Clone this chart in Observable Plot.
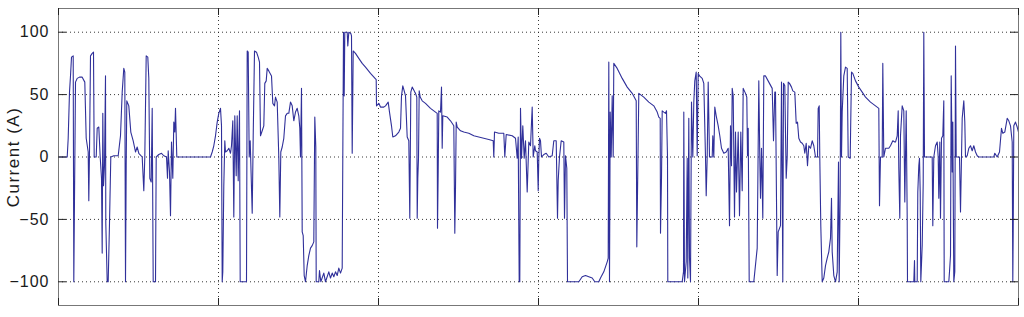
<!DOCTYPE html>
<html><head><meta charset="utf-8">
<script src="https://cdn.jsdelivr.net/npm/d3@7"></script>
<script src="https://cdn.jsdelivr.net/npm/@observablehq/plot@0.6"></script>
<style>
html,body{margin:0;padding:0;background:#fff;}
#chart svg{display:block;}
</style></head><body><div id="chart"></div>
<script>
// time (×10 s) and current (A) readings, by stretch of the drive
const segA = [[0,0],[8.7,0],[9.7,15],[11,52],[12,65],[13,80],[14.7,81],[15.3,-100],[16,-33],[17,60],[18.7,63],[21,64],[23.7,64],[26.3,60],[27.7,15],[29.7,4],[30.3,-35],[31,4],[32,81],[33.7,83],[35,84],[35.7,0],[37.7,0],[38.7,23],[40.3,24],[41.7,0],[43,-17],[43.7,-77],[44.3,35],[45,-23],[46,-7],[47,65],[47.3,-53],[48.7,-100],[49.7,-100],[51,-53],[52.3,0],[55.3,1],[59.7,1],[62,17],[63.7,52],[65.3,71],[66.3,68],[67,-100],[67.7,-7],[68.3,45],[70.3,41],[72.3,20],[74.7,13],[77,4],[78.7,8],[80.3,3],[83.7,0],[85.3,-27],[86.3,0],[87.7,81],[89.3,80],[90.3,63],[91.3,-17],[92.7,-20],[93.7,39],[94.7,-100],[97,-100],[97.7,0],[100.3,2],[103,3],[105.3,1],[108,0],[109,-17],[109.7,5],[111,-12],[112,-47],[113,12],[114.3,-17],[115.3,28],[116.3,20],[117,39],[118.3,0]];
const segB = [[152,0],[153.7,4],[155.3,9],[157,17],[158.7,28],[160.3,35],[162,39],[163,25],[163.7,-100],[164.3,-92],[165.3,-23],[166.3,13],[167,4],[168.7,5],[170.3,7],[172,3],[173,9],[174.3,29],[175.3,-48],[176.3,33],[177.7,-15],[178.7,33],[179.7,-19],[181,37],[181.7,-100],[188,-100],[188.7,85],[189.7,84],[190.7,0],[191.7,13],[193.7,-45],[194.7,16],[196,85],[198,84],[199.7,80],[201,76],[202,17],[203.7,21],[205.3,25],[206.3,59],[207.7,61],[208.7,71],[210.3,69],[213,65],[214.3,43],[216,41],[217,48],[218.7,44],[220.3,0],[221.3,-48],[222.3,4],[223.7,8],[225.3,15],[227,33],[228.7,35],[230.3,35],[232,44],[233.7,41],[235.3,29]];
const segC = [[237,36],[238.7,39],[240.3,33],[241.3,23],[242,0],[243,55],[243.7,-60],[244.7,-63],[245.7,-95],[247,-100],[248.7,-87],[250.3,-79],[252,-73],[253.7,-71],[255.3,-68],[256.3,32],[257.3,8],[257.7,-100],[260.3,-100],[261,-91],[262.3,-100],[265.3,-93],[267,-100],[270.3,-92],[272,-97],[273.7,-93],[275.3,-96],[277,-92],[278.7,-95],[280.3,-89],[282,-93],[283.7,-89],[284.3,0],[285,100],[285.7,49],[286.3,100],[288.7,100],[289.3,89],[290.3,100],[292.3,99],[293,97],[293.7,3],[294.7,85],[297,83],[300.3,79],[303.7,75],[307,72],[312,67],[317.7,62],[318,41],[320.3,43],[322,40],[325.3,40],[327,41],[329.7,44],[331,36],[333,25],[334.3,16],[337,17],[340.3,20],[342,23],[343,49],[344.3,57],[345.7,53],[347,49],[348.7,16],[350.3,13],[351.3,-49],[352.3,52],[353.7,56],[356.3,52]];
const segD = [[357,51],[358.3,48],[358.7,-49],[359.3,-17],[360,-1],[360.7,53],[361.7,48],[363.7,45],[367,43],[372,39],[377,36],[378.7,35],[379,-57],[379.7,-11],[380.3,37],[382,36],[383,56],[383.7,7],[384.3,33],[388.7,32],[392,29],[395.3,25],[396.3,-61],[397,-25],[397.7,28],[398.7,24],[402,21],[405.3,20],[410.3,19],[415.3,17],[420.3,16],[425.3,15],[430.3,14],[434.7,13],[435.3,0],[436,20],[440.3,19],[445.3,19],[446.3,0],[447.7,18],[453.7,17],[457,15],[458.7,-1],[459.7,16],[460.7,-100],[461.3,-100],[462,39],[463,-1],[464.3,25],[465.7,-1],[467,13],[468.7,-28],[470.3,12],[472,9],[473.7,40],[474.7,0],[476.3,9]];
const segE = [[477,5],[478.7,4],[479.7,-27],[480.3,-1],[481,15],[482,13],[483,0],[485.3,2],[487.7,3],[490.3,0],[493.7,1],[495.3,13],[497.7,13],[499,-49],[499.7,-19],[501,0],[502.7,13],[505.3,12],[506,-49],[507,1],[508.3,-9],[509,-100],[520.3,-100],[523.7,-96],[527,-95],[530.3,-96],[533.7,-97],[536.3,-100],[540.3,-100],[542,-97],[545.3,-92],[548.7,-84],[549.7,-81],[550.3,76],[551,-100],[551.7,36],[552.7,0],[553.7,49],[554.7,0],[555.3,75],[558.7,71],[563.7,63],[568.7,56],[573.7,51],[577.7,45],[578.3,-72],[579.3,-11],[580.3,51],[585.3,48],[590.3,44],[595.3,41]];
const segF = [[598.7,36],[600.3,32],[601.7,31],[602,-61],[603,-17],[603.7,37],[605.3,36],[607,35],[608,37],[609,0],[609.3,-100],[623.7,-100],[625,-92],[625.3,36],[626,-100],[627.7,-84],[628.7,-1],[629.3,-97],[630.3,31],[631,-81],[632,-100],[633,44],[634.3,0],[635.3,44],[636.3,61],[637.7,68],[638.7,1],[639.7,67],[641,65],[643.7,63],[645.3,59],[647,0],[647.7,-31],[648.7,0],[649.7,60],[651,0],[653.7,0],[654.3,17],[655.3,0],[656.3,40],[657.7,33],[659.7,25],[661.3,17],[663,7],[665.3,3],[667.7,4],[669.7,7],[671,-55],[672,25],[673,-7],[673.7,55],[674.7,49],[676,-48],[677,20],[678,-28],[679.7,20],[681,-47],[682.3,20],[683.7,-27],[684.7,55],[687,51],[688.3,48],[689,1],[689.7,23],[690.7,-100],[695.3,-100],[698.7,-73],[699.3,-23],[700.3,61],[701.3,-1],[702,-33],[703,7],[704.3,-49],[705.3,65],[707,65],[710.3,60],[713.7,55],[715,13],[716.3,52]];
const segG = [[717,52],[718.7,-95],[719.7,-60],[722,-55],[723,60],[723.7,-17],[724.3,-100],[725,59],[726.3,57],[727.7,-17],[728.7,0],[729.7,60],[731,59],[733,56],[734.3,53],[736.3,52],[737.7,27],[739,28],[740.3,15],[742,12],[743.7,11],[745.3,9],[746.3,3],[747.7,11],[749,-7],[750.3,9],[752,7],[753.7,13],[755.3,9],[757,0],[759,0],[759.7,39],[760.7,41],[761.3,-1],[762.3,-55],[763.7,-100],[765.3,-97],[767,-87],[768.7,-81],[770.3,-76],[772,-65],[773,-33],[773.7,-76],[775.3,-95],[777,-100],[778.7,-92],[780,-4],[780.7,-100],[781.7,-28],[782.3,100],[783,0],[783.7,36],[785.3,65],[787,72],[788.7,71],[789.7,0],[791.7,-1],[793,68],[794.3,67],[797,61],[800.3,56],[803.7,52],[807,48],[812,44],[817,41],[820.3,39],[821,-39],[822,0],[823.7,0],[824.3,75],[825.3,0],[827,7],[830.3,7],[832,9],[834.3,13],[836.3,12]];
const segH = [[837,12],[838.7,17],[839.7,37],[840.3,-9],[841.3,-49],[842,17],[843.7,41],[845.3,37],[846.3,-36],[847.7,37],[848.7,-49],[849,-100],[855.3,-100],[856,-83],[856.3,-100],[858.7,-100],[859.3,-28],[860.3,-7],[861,-1],[861.7,-28],[862.3,-100],[863.7,-71],[864.7,-21],[865.3,100],[866,0],[873.7,0],[874.3,-55],[875.3,0],[877,9],[878.7,12],[879.7,0],[880.3,-33],[881.3,12],[882,-49],[883,15],[884.3,17],[885.3,45],[885.7,-100],[890.3,-100],[891,-92],[892,-79],[892.7,65],[893.7,-12],[894.3,28],[895.3,-100],[896.3,-92],[897,89],[897.7,0],[901,0],[902,-44],[903,0],[903.7,31],[905.3,45],[906.3,28],[907,0],[908.7,1],[910.3,7],[912,9],[913.7,5],[915.3,9],[917,4],[918.7,1],[920.3,0],[935.3,0],[936.3,3],[938.7,0],[941,4],[943,23],[944.3,19],[946.3,20],[948.7,31],[950.3,29],[952,25],[953.7,12],[954.3,-100],[954.7,-61],[955.3,25],[957,28],[958.7,24],[960,20]];

const xTicks = [0, 160, 320, 480, 640, 800, 960];
const yTicks = [-100, -50, 0, 50, 100];
const yLabel = "Current (A)";
const xDomain = [0, 960];
const yDomain = [-119, 119];

const samples = [...segA, ...segB, ...segC, ...segD, ...segE, ...segF, ...segG, ...segH]
  .map(([t, c]) => ({t, c}));

const chart = Plot.plot({
  width: 1024,
  height: 317,
  marginLeft: 58,
  marginRight: 6,
  marginTop: 8,
  marginBottom: 12,
  style: {fontFamily: "'Liberation Sans', Arial, Helvetica, sans-serif", fontSize: "16px", color: "#1a1a1a", background: "#fff"},
  x: {domain: xDomain, axis: null},
  y: {domain: yDomain},
  marks: [
    Plot.gridX(xTicks.slice(1, -1), {stroke: "#222", strokeOpacity: 0.9, strokeDasharray: "1,3"}),
    Plot.gridY(yTicks, {stroke: "#222", strokeOpacity: 0.9, strokeDasharray: "1,3"}),
    Plot.line(samples, {x: "t", y: "c", stroke: "#30309a", strokeWidth: 1.1}),
    Plot.frame({stroke: "#777"}),
    Plot.tickX(xTicks, {x: d => d, insetTop: 290, stroke: "#222"}),
    Plot.tickX(xTicks, {x: d => d, insetBottom: 290, stroke: "#222"}),
    Plot.tickY(yTicks, {y: d => d, insetRight: 952, stroke: "#222"}),
    Plot.tickY(yTicks, {y: d => d, insetLeft: 952, stroke: "#222"}),
    Plot.axisY(yTicks, {tickSize: 0, tickPadding: 9, fontSize: 16, label: yLabel, labelArrow: "none", labelAnchor: "center", labelOffset: 52})
  ]
});
document.getElementById("chart").append(chart);
const svg = d3.select(chart);
svg.selectAll("g[aria-label='y-axis tick label'] text").style("letter-spacing", "1px");
svg.selectAll("g[aria-label='y-axis label'] text").style("font-size", "17px").style("letter-spacing", "1.5px");
</script></body></html>
